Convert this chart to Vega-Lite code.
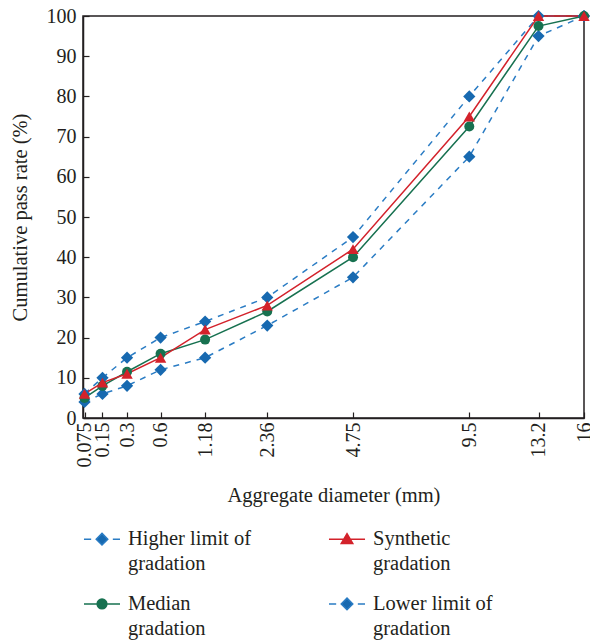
{
  "$schema": "https://vega.github.io/schema/vega-lite/v6.json",
  "autosize": {"type": "none"},
  "padding": {"left": 83, "top": 16, "right": 6, "bottom": 226},
  "width": 501,
  "height": 402,
  "background": "white",
  "config": {
    "font": "Liberation Serif",
    "view": {"stroke": "#231f20", "strokeWidth": 1.5},
    "style": {"guide-label": {"lineHeight": 25}},
    "axis": {
      "labelFont": "Liberation Serif",
      "titleFont": "Liberation Serif",
      "labelFontSize": 20,
      "titleFontSize": 20.5,
      "labelColor": "#231f20",
      "titleColor": "#231f20",
      "titleFontWeight": "normal",
      "domainColor": "#231f20",
      "domainWidth": 1.5,
      "tickColor": "#231f20",
      "tickWidth": 1.2,
      "tickSize": -6,
      "grid": false
    },
    "legend": {
      "labelFont": "Liberation Serif",
      "labelFontSize": 20.5,
      "labelColor": "#231f20",
      "orient": "none",
      "legendX": 0,
      "legendY": 494,
      "columns": 2,
      "direction": "horizontal",
      "columnPadding": 74,
      "rowPadding": 0,
      "symbolSize": 1300,
      "symbolStrokeWidth": 1.5,
      "labelOffset": 7,
      "labelLimit": 300,
      "labelBaseline": "top"
    }
  },
  "data": {
    "values": [
      {"d": 0.075, "series": "Higher limit of gradation", "v": 6},
      {"d": 0.15, "series": "Higher limit of gradation", "v": 10},
      {"d": 0.3, "series": "Higher limit of gradation", "v": 15},
      {"d": 0.6, "series": "Higher limit of gradation", "v": 20},
      {"d": 1.18, "series": "Higher limit of gradation", "v": 24},
      {"d": 2.36, "series": "Higher limit of gradation", "v": 30},
      {"d": 4.75, "series": "Higher limit of gradation", "v": 45},
      {"d": 9.5, "series": "Higher limit of gradation", "v": 80},
      {"d": 13.2, "series": "Higher limit of gradation", "v": 100},
      {"d": 16, "series": "Higher limit of gradation", "v": 100},
      {"d": 0.075, "series": "Lower limit of gradation", "v": 4},
      {"d": 0.15, "series": "Lower limit of gradation", "v": 6},
      {"d": 0.3, "series": "Lower limit of gradation", "v": 8},
      {"d": 0.6, "series": "Lower limit of gradation", "v": 12},
      {"d": 1.18, "series": "Lower limit of gradation", "v": 15},
      {"d": 2.36, "series": "Lower limit of gradation", "v": 23},
      {"d": 4.75, "series": "Lower limit of gradation", "v": 35},
      {"d": 9.5, "series": "Lower limit of gradation", "v": 65},
      {"d": 13.2, "series": "Lower limit of gradation", "v": 95},
      {"d": 16, "series": "Lower limit of gradation", "v": 100},
      {"d": 0.075, "series": "Median gradation", "v": 5},
      {"d": 0.15, "series": "Median gradation", "v": 8},
      {"d": 0.3, "series": "Median gradation", "v": 11.5},
      {"d": 0.6, "series": "Median gradation", "v": 16},
      {"d": 1.18, "series": "Median gradation", "v": 19.5},
      {"d": 2.36, "series": "Median gradation", "v": 26.5},
      {"d": 4.75, "series": "Median gradation", "v": 40},
      {"d": 9.5, "series": "Median gradation", "v": 72.5},
      {"d": 13.2, "series": "Median gradation", "v": 97.5},
      {"d": 16, "series": "Median gradation", "v": 100},
      {"d": 0.075, "series": "Synthetic gradation", "v": 6},
      {"d": 0.15, "series": "Synthetic gradation", "v": 8.8},
      {"d": 0.3, "series": "Synthetic gradation", "v": 11},
      {"d": 0.6, "series": "Synthetic gradation", "v": 15},
      {"d": 1.18, "series": "Synthetic gradation", "v": 22},
      {"d": 2.36, "series": "Synthetic gradation", "v": 28},
      {"d": 4.75, "series": "Synthetic gradation", "v": 42},
      {"d": 9.5, "series": "Synthetic gradation", "v": 75},
      {"d": 13.2, "series": "Synthetic gradation", "v": 100},
      {"d": 16, "series": "Synthetic gradation", "v": 100}
    ]
  },
  "encoding": {
    "x": {
      "field": "d",
      "type": "quantitative",
      "scale": {"type": "pow", "exponent": 0.45, "domain": [0.07, 16], "nice": false, "zero": false},
      "axis": {
        "values": [0.075, 0.15, 0.3, 0.6, 1.18, 2.36, 4.75, 9.5, 13.2, 16],
        "labelExpr": "toString(datum.value)",
        "labelAngle": -90,
        "labelAlign": "right",
        "labelBaseline": "middle",
        "labelPadding": 10,
        "labelOverlap": false,
        "labelFlush": false,
        "title": "Aggregate diameter (mm)",
        "titleY": 77,
        "titleBaseline": "middle"
      }
    },
    "y": {
      "field": "v",
      "type": "quantitative",
      "scale": {"domain": [0, 100], "nice": false},
      "axis": {
        "values": [0, 10, 20, 30, 40, 50, 60, 70, 80, 90, 100],
        "labelPadding": 13,
        "title": "Cumulative pass rate (%)",
        "titleX": -63,
        "titleY": 201,
        "titleAngle": -90,
        "titleAlign": "center",
        "titleBaseline": "middle"
      }
    }
  },
  "layer": [
    {
      "transform": [{"filter": "indexof(datum.series, 'limit') >= 0"}],
      "mark": {"type": "line", "strokeWidth": 1.5, "color": "#2a7cc4", "strokeDash": [6, 6]},
      "encoding": {"detail": {"field": "series"}}
    },
    {
      "transform": [{"filter": "datum.series == 'Median gradation'"}],
      "mark": {"type": "line", "strokeWidth": 1.5, "color": "#177150"}
    },
    {
      "transform": [{"filter": "datum.series == 'Synthetic gradation'"}],
      "mark": {"type": "line", "strokeWidth": 1.5, "color": "#d3222b"}
    },
    {
      "transform": [{"filter": "indexof(datum.series, 'limit') >= 0"}],
      "mark": {"type": "point", "shape": "diamond", "filled": true, "size": 150, "opacity": 1, "color": "#1769b0"}
    },
    {
      "transform": [{"filter": "datum.series == 'Median gradation'"}],
      "mark": {"type": "point", "shape": "circle", "filled": true, "size": 100, "opacity": 1, "color": "#177150"}
    },
    {
      "transform": [{"filter": "datum.series == 'Synthetic gradation'"}],
      "mark": {"type": "point", "shape": "triangle-up", "filled": true, "size": 130, "opacity": 1, "color": "#d3222b"}
    },
    {
      "transform": [{"filter": "false"}],
      "mark": {"type": "point", "filled": true, "opacity": 1, "strokeWidth": 1.5},
      "encoding": {
        "color": {
          "field": "series",
          "type": "nominal",
          "scale": {
            "domain": ["Higher limit of gradation", "Synthetic gradation", "Median gradation", "Lower limit of gradation"],
            "range": ["#1769b0", "#d3222b", "#177150", "#1769b0"]
          },
          "legend": {
            "title": null,
            "labelExpr": "datum.label == 'Higher limit of gradation' ? ['Higher limit of', 'gradation'] : datum.label == 'Synthetic gradation' ? ['Synthetic', 'gradation'] : datum.label == 'Median gradation' ? ['Median', 'gradation'] : ['Lower limit of', 'gradation']"
          }
        },
        "stroke": {
          "field": "series",
          "type": "nominal",
          "scale": {
            "domain": ["Higher limit of gradation", "Synthetic gradation", "Median gradation", "Lower limit of gradation"],
            "range": ["#2a7cc4", "#d3222b", "#177150", "#2a7cc4"]
          },
          "legend": {
            "title": null,
            "labelExpr": "datum.label == 'Higher limit of gradation' ? ['Higher limit of', 'gradation'] : datum.label == 'Synthetic gradation' ? ['Synthetic', 'gradation'] : datum.label == 'Median gradation' ? ['Median', 'gradation'] : ['Lower limit of', 'gradation']"
          }
        },
        "shape": {
          "field": "series",
          "type": "nominal",
          "scale": {
            "domain": ["Higher limit of gradation", "Synthetic gradation", "Median gradation", "Lower limit of gradation"],
            "range": [
              "M-1,0.55H-0.6M0.6,0.55H1M0,0.23L0.32,0.55L0,0.87L-0.32,0.55Z",
              "M-1,0.55H1M0,0.25L0.32,0.79L-0.32,0.79Z",
              "M-1,0.55H1M0.27,0.55A0.27,0.27,0,1,1,-0.27,0.55A0.27,0.27,0,1,1,0.27,0.55Z",
              "M-1,0.55H-0.6M0.6,0.55H1M0,0.23L0.32,0.55L0,0.87L-0.32,0.55Z"
            ]
          },
          "legend": {
            "title": null,
            "labelExpr": "datum.label == 'Higher limit of gradation' ? ['Higher limit of', 'gradation'] : datum.label == 'Synthetic gradation' ? ['Synthetic', 'gradation'] : datum.label == 'Median gradation' ? ['Median', 'gradation'] : ['Lower limit of', 'gradation']"
          }
        }
      }
    }
  ]
}
